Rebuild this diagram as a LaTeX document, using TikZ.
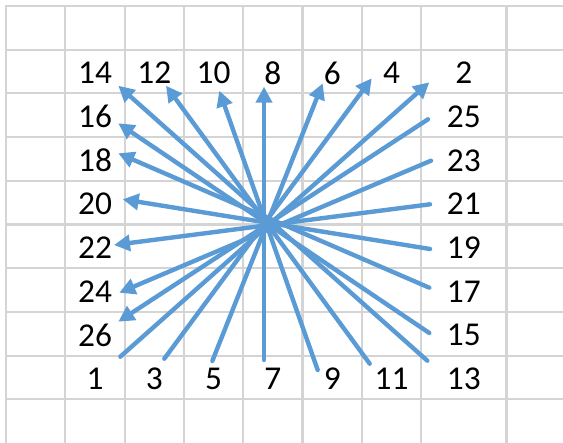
\documentclass[tikz,border=0pt]{standalone}
\usepackage{fontspec}
\setmainfont{Carlito}
\usepackage{xcolor}
\usepackage{tikz}
\usetikzlibrary{arrows.meta}
\definecolor{rayblue}{HTML}{5B9BD5}
\definecolor{cellgray}{HTML}{D4D4D4}
\tikzset{
  gridline/.style={draw=cellgray,line width=1.6pt,line cap=rect},
  numlabel/.style={inner sep=0pt,font=\fontsize{25}{29}\selectfont},
  ray/.style={draw=rayblue,line width=3.3pt,line cap=round,-{Triangle[length=12pt,width=12pt]}}
}

\begin{document}
\begin{tikzpicture}[x=0.75pt,y=-0.75pt]
  \useasboundingbox (0,0) rectangle (563,442);
  \fill[white] (0,0) rectangle (563,442);

  \foreach \gx in {6,65.3,124.6,183.9,243.2,302.5,361.8,421.1,506.5}
    \draw[gridline] (\gx,6) -- (\gx,445);
  \foreach \gy in {6,49.7,93.4,137.1,180.8,224.5,268.2,311.9,355.6,399.3}
    \draw[gridline] (6,\gy) -- (566,\gy);

  \foreach \lab/\cx/\cy in {14/95/73, 12/154.3/73, 10/213.6/73, 8/272.9/73, 6/332.2/73, 4/391.5/73, 2/463.8/73,
      16/95/116.7, 18/95/160.4, 20/95/204.1, 22/95/247.8, 24/95/291.5, 26/95/335.2,
      25/463.8/116.7, 23/463.8/160.4, 21/463.8/204.1, 19/463.8/247.8, 17/463.8/291.5, 15/463.8/335.2,
      1/95/379, 3/154.3/379, 5/213.6/379, 7/272.9/379, 9/332.2/379, 11/391.5/379, 13/463.8/379}
    \node[numlabel] (n\lab) at (\cx,\cy) {\lab};

  \coordinate (r1) at (120.3,356.7);  \coordinate (r2) at (429.3,82.3);
  \coordinate (r3) at (164.3,358.7);  \coordinate (r4) at (371.7,78.3);
  \coordinate (r5) at (212.3,361);    \coordinate (r6) at (322.7,83.3);
  \coordinate (r7) at (264,360);      \coordinate (r8) at (264,86.7);
  \coordinate (r9) at (317.7,370);    \coordinate (r10) at (219.3,90.7);
  \coordinate (r11) at (369.7,363.7); \coordinate (r12) at (166,85.7);
  \coordinate (r13) at (427.3,360.7); \coordinate (r14) at (118.3,85.7);
  \coordinate (r15) at (429.3,333);   \coordinate (r16) at (118.3,123.3);
  \coordinate (r17) at (429.3,287.7); \coordinate (r18) at (118.3,153.3);
  \coordinate (r19) at (430,249);     \coordinate (r20) at (122.7,199.3);
  \coordinate (r21) at (430,204.3);   \coordinate (r22) at (114,245);
  \coordinate (r23) at (431,160.7);   \coordinate (r24) at (119.3,292.7);
  \coordinate (r25) at (428,119.3);   \coordinate (r26) at (118.3,321.7);

  \foreach \a/\b in {1/2,3/4,5/6,7/8,9/10,11/12,13/14,15/16,17/18,19/20,21/22,23/24,25/26}
    \draw[ray] (r\a) -- (r\b);
\end{tikzpicture}
\end{document}
